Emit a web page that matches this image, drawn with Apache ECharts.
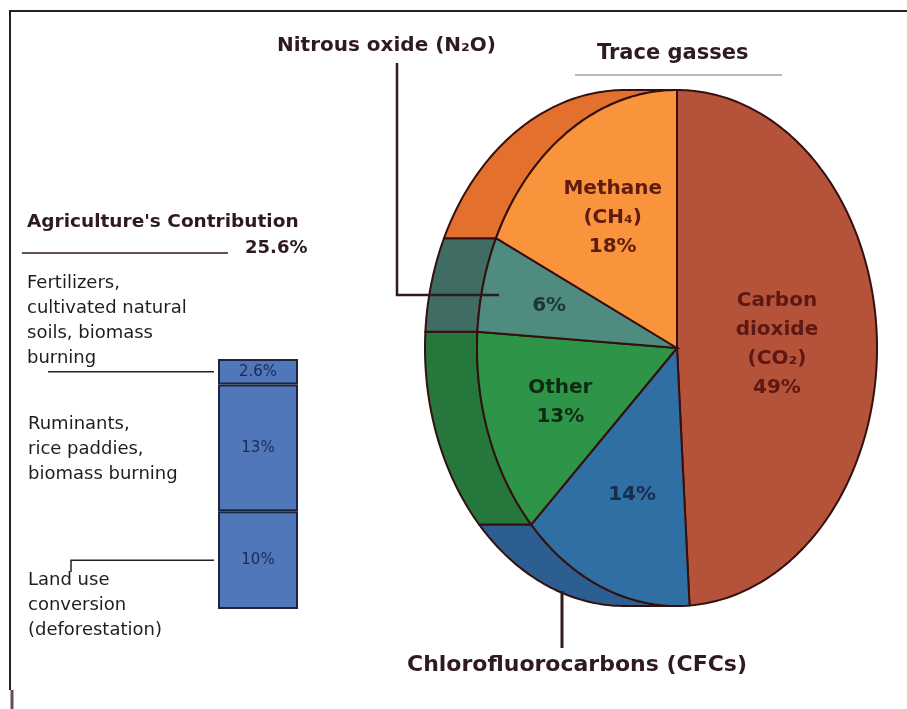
<!DOCTYPE html>
<html>
<head>
<meta charset="utf-8">
<script src="https://cdn.jsdelivr.net/npm/echarts@6/dist/echarts.min.js"></script>
<style>
  html, body { margin: 0; padding: 0; background: #ffffff; }
  #main { width: 907px; height: 709px; }
</style>
</head>
<body>
<div id="main"></div>
<script>
// trace gasses, clockwise from 12 o'clock
var gasNames = ['Carbon dioxide', 'Chlorofluorocarbons', 'Other', 'Nitrous oxide', 'Methane'];
var gasValues = [49, 14, 13, 6, 18];
var gasLabels = ['Carbon\ndioxide\n(CO₂)', '', 'Other', '', 'Methane\n(CH₄)'];

// agriculture's share, bottom to top
var agriNames = ['Land use conversion', 'Ruminants, rice paddies', 'Fertilizers'];
var agriValues = [10, 13, 2.6];
var agriTotal = '25.6%';

// styles
var faceColors = ['#b4523a', '#2f6fa3', '#2e9548', '#4f8b7e', '#f9943c'];
var sideColors = ['#9c4330', '#2d5e91', '#25773b', '#3f6c63', '#e4702d'];
var textColors = ['#5e1712', '#182c4c', '#0d2a14', '#1c3631', '#5e1c10'];
var labelRadius = [0.5, 0.61, 0.62, 0.66, 0.6];
var edge = '#34100f';
var depth = -0.26; // back face shift (x data units)

var FONT = '"DejaVu Sans", Arial, sans-serif';
var dark = '#2f1a22';

var myChart = echarts.init(document.getElementById('main'));

var sliceData = [];
var acc = 0;
for (var i = 0; i < gasValues.length; i++) {
    sliceData.push([acc, acc + gasValues[i], i]);
    acc += gasValues[i];
}

function renderSlice(params, api) {
    var a0 = api.value(0) * 3.6, a1 = api.value(1) * 3.6, i = api.value(2);
    function P(a, r, dx) {
        var t = a * Math.PI / 180;
        return api.coord([dx + r * Math.sin(t), r * Math.cos(t)]);
    }
    var children = [];
    var b0 = Math.max(a0, 180), b1 = Math.min(a1, 360);
    if (b1 > b0) {
        var side = [];
        var a;
        for (a = b0; a < b1; a += 1) side.push(P(a, 1, 0));
        side.push(P(b1, 1, 0));
        for (a = b1; a > b0; a -= 1) side.push(P(a, 1, depth));
        side.push(P(b0, 1, depth));
        children.push({
            type: 'polygon',
            shape: { points: side },
            style: { fill: sideColors[i], stroke: edge, lineWidth: 2 }
        });
    }
    var face = [api.coord([0, 0])];
    for (var b = a0; b < a1; b += 1) face.push(P(b, 1, 0));
    face.push(P(a1, 1, 0));
    children.push({
        type: 'polygon',
        shape: { points: face },
        style: { fill: faceColors[i], stroke: edge, lineWidth: 2 }
    });
    var txt = gasLabels[i] ? gasLabels[i] + '\n' + gasValues[i] + '%' : gasValues[i] + '%';
    var lp = P((a0 + a1) / 2, labelRadius[i], 0);
    children.push({
        type: 'text',
        z2: 10,
        style: {
            text: txt,
            x: lp[0],
            y: lp[1],
            align: 'center',
            verticalAlign: 'middle',
            fill: textColors[i],
            font: 'bold 20px ' + FONT,
            lineHeight: 29
        }
    });
    return { type: 'group', children: children };
}

var option = {
    animation: false,
    backgroundColor: '#ffffff',
    grid: [
        { left: 477, top: 90, width: 400, height: 516 },
        { left: 218, top: 359, width: 80, height: 250 }
    ],
    xAxis: [
        { gridIndex: 0, type: 'value', min: -1, max: 1, show: false },
        { gridIndex: 1, type: 'category', data: ['Agriculture'], show: false }
    ],
    yAxis: [
        { gridIndex: 0, type: 'value', min: -1, max: 1, show: false },
        { gridIndex: 1, type: 'value', min: 0, max: 25.6, show: false }
    ],
    series: [
        {
            type: 'custom',
            name: 'Trace gasses',
            xAxisIndex: 0,
            yAxisIndex: 0,
            clip: false,
            renderItem: renderSlice,
            data: sliceData
        }
    ].concat(agriValues.map(function (v, k) {
        return {
            type: 'bar',
            name: agriNames[k],
            xAxisIndex: 1,
            yAxisIndex: 1,
            stack: 'agri',
            barWidth: '100%',
            data: [v],
            itemStyle: { color: '#5077b9', borderColor: '#1c2440', borderWidth: 2 },
            label: {
                show: true,
                position: 'inside',
                formatter: v + '%',
                color: '#1d2a55',
                fontFamily: FONT,
                fontSize: 15
            }
        };
    }))
};
myChart.setOption(option);

// leader lines to the bar segments
var mid = [];
var run = 0;
for (var k = 0; k < agriValues.length; k++) {
    mid.push(myChart.convertToPixel({ yAxisIndex: 1 }, run + agriValues[k] / 2));
    run += agriValues[k];
}
var barLeft = myChart.convertToPixel({ xAxisIndex: 1 }, 'Agriculture') - 40;

var bodyText = function (x, y, t) {
    return {
        type: 'text', left: x, top: y,
        style: { text: t, fill: '#1e1e1e', font: '18px ' + FONT, lineHeight: 25 }
    };
};
var line = function (pts, w, c) {
    return { type: 'polyline', shape: { points: pts }, style: { stroke: c || dark, lineWidth: w || 1.5, fill: null }, z: 5 };
};

myChart.setOption({
    graphic: [
        // frame
        line([[9, 11], [907, 11]], 2, '#222'),
        line([[10, 11], [10, 690]], 2, '#222'),
        line([[12, 690], [12, 709]], 3, '#6a4a55'),
        // pie titles
        {
            type: 'text', left: 597, top: 43,
            style: { text: 'Trace gasses', fill: dark, font: 'bold 21px ' + FONT }
        },
        line([[575, 75], [782, 75]], 1.2, '#777'),
        {
            type: 'text', left: 277, top: 36,
            style: { text: 'Nitrous oxide (N₂O)', fill: dark, font: 'bold 20px ' + FONT }
        },
        line([[397, 63], [397, 295], [499, 295]], 2.5),
        {
            type: 'text', left: 407, top: 654,
            style: { text: 'Chlorofluorocarbons (CFCs)', fill: dark, font: 'bold 22px ' + FONT }
        },
        line([[562, 591], [562, 648]], 3),
        // agriculture
        {
            type: 'text', left: 27, top: 213,
            style: { text: "Agriculture's Contribution", fill: dark, font: 'bold 18.5px ' + FONT }
        },
        line([[22, 253], [228, 253]], 1.5),
        {
            type: 'text', left: 245, top: 239,
            style: { text: agriTotal, fill: dark, font: 'bold 18px ' + FONT }
        },
        bodyText(27, 271, 'Fertilizers,\ncultivated natural\nsoils, biomass\nburning'),
        line([[48, mid[2]], [barLeft - 4, mid[2]]], 1.5, '#222'),
        bodyText(28, 412, 'Ruminants,\nrice paddies,\nbiomass burning'),
        bodyText(28, 568, 'Land use\nconversion\n(deforestation)'),
        line([[71, 572], [71, mid[0]], [barLeft - 4, mid[0]]], 1.5, '#222')
    ]
});
</script>
</body>
</html>
